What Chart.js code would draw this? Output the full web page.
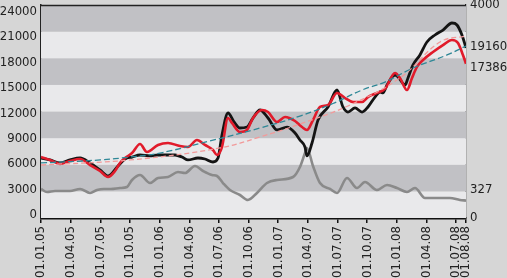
<!DOCTYPE html>
<html>
<head>
<meta charset="utf-8">
<script src="https://cdn.jsdelivr.net/npm/chart.js@4/dist/chart.umd.min.js"></script>
<style>
html,body{margin:0;padding:0;background:#d6d6d6;}
#wrap{width:507px;height:278px;position:relative;}
</style>
</head>
<body>
<div id="wrap"><canvas id="c" width="507" height="278"></canvas></div>
<script>
// ---- data (x = months since 01.01.05) ----
const tickMonths = [0,3,6,9,12,15,18,21,24,27,30,33,36,39,42,43];
const tickLabels = ['01.01.05','01.04.05','01.07.05','01.10.05','01.01.06','01.04.06','01.07.06','01.10.06','01.01.07','01.04.07','01.07.07','01.10.07','01.01.08','01.04.08','01.07.08','01.08.08'];
const leftTicks = [0,3000,6000,9000,12000,15000,18000,21000,24000];
const rightTicks = [0,4000];

const blackMonths = [0,0.91,1.92,2.93,3.95,4.96,5.97,6.78,7.79,8.5,9.21,10.02,11.03,11.84,12.85,13.56,14.27,14.87,15.88,16.59,17.4,17.91,18.31,18.92,19.53,20.13,20.84,21.45,22.16,22.97,23.88,24.89,25.7,26.2,26.71,26.91,27.42,28.03,29.04,29.95,30.55,31.06,31.77,32.48,33.08,33.79,34.3,34.6,35.01,35.82,36.12,36.83,37.13,37.64,38.34,39.05,39.86,40.67,41.58,42.09,42.59,43];
const blackValues = [6760,6540,6200,6540,6760,6200,5410,4730,5860,6650,6870,7100,6990,7100,7100,7100,6870,6540,6760,6650,6310,6760,9350,11830,10820,10140,10250,11270,12170,11270,9920,10250,9580,8790,8000,6990,8450,11040,12510,14420,12510,11940,12400,11940,12510,13630,14200,14090,14990,16110,15890,14990,15780,17240,18370,19830,20620,21180,21970,21750,20620,19160];

const redMonths = [0,0.91,1.92,2.93,3.95,4.96,5.97,6.78,7.49,7.99,8.5,9.21,10.02,10.72,11.84,12.85,14.06,14.87,15.78,16.59,17.4,17.81,18.31,18.92,19.32,20.13,20.84,21.45,22.36,22.97,23.88,24.69,25.7,26.41,26.91,27.52,28.23,29.04,29.95,30.76,31.57,32.48,33.08,33.99,34.8,35.82,36.32,37.03,37.54,38.04,38.65,39.66,40.67,41.58,42.19,42.69,43];
const redValues = [6870,6540,6090,6420,6650,5970,5300,4620,5300,6200,6760,7320,8340,7440,8230,8450,8110,8000,8790,8230,7660,7100,8000,11270,10710,9690,9920,11270,12170,11940,10820,11380,10930,10250,9920,11040,12510,12730,14090,13520,13070,13070,13630,14090,14540,16340,15780,14420,15780,17020,17800,18710,19490,20060,19720,18370,17386];

const trendMonths = [0,5.97,9.0,12.04,17.1,22.16,26.2,29.54,32.48,34.8,37.64,41.08,43];
const trendValues = [6200,6540,6870,7320,8680,10140,11490,12900,14420,15320,16900,18370,19380];

const pinkMonths = [0,9.0,18.11,22.16,26.2,31.26,36.32,40.37,43];
const pinkValues = [5970,6540,7890,9130,10590,12730,15780,19830,20510];

const grayMonths = [0,0.61,1.42,2.02,2.93,3.95,4.96,5.67,6.37,7.08,7.99,8.7,9.21,10.02,11.03,11.84,12.85,13.86,14.57,15.58,16.39,17.3,17.81,18.41,19.12,20.13,20.94,21.85,22.86,23.88,25.5,26.2,26.71,26.91,27.52,28.23,29.24,29.95,30.96,31.97,32.78,33.99,35.01,36.02,37.03,37.84,38.85,40.06,41.37,42.39,43];
const grayValues = [545,488,507,507,507,545,470,526,545,545,563,582,714,808,657,751,770,864,845,977,883,808,789,657,526,432,338,470,657,714,770,958,1221,1315,977,657,545,470,751,563,676,526,620,563,488,563,376,376,376,338,327];

const pts = (xs, ys) => xs.map((x, i) => ({x: x, y: ys[i]}));
const FONT = "'DejaVu Sans Condensed','Liberation Sans',sans-serif";
const FSIZE = 13;

const bandsPlugin = {
  id: 'bands',
  beforeDatasetsDraw(chart) {
    const {ctx, chartArea: a, scales: {y}} = chart;
    ctx.save();
    for (let i = 0; i < leftTicks.length - 1; i++) {
      const y0 = y.getPixelForValue(leftTicks[i]);
      const y1 = y.getPixelForValue(leftTicks[i + 1]);
      ctx.fillStyle = (i % 2 === 0) ? '#e9e9eb' : '#c1c1c5';
      ctx.fillRect(a.left, y1, a.right - a.left, y0 - y1);
    }
    ctx.restore();
  },
  afterDraw(chart) {
    const {ctx, chartArea: a, scales} = chart;
    ctx.save();
    ctx.strokeStyle = '#222';
    ctx.lineWidth = 1.5;
    ctx.beginPath();
    ctx.moveTo(a.left, a.top + 0.5);
    ctx.lineTo(a.right, a.top + 0.5);
    ctx.stroke();
    // end value labels
    ctx.fillStyle = '#222';
    ctx.font = FSIZE + 'px ' + FONT;
    ctx.textAlign = 'left';
    ctx.textBaseline = 'middle';
    const items = [
      [blackValues[blackValues.length - 1], scales.y, -1],
      [redValues[redValues.length - 1], scales.y, 4],
      [grayValues[grayValues.length - 1], scales.y2, -11]
    ];
    items.forEach(([v, s, off]) => {
      ctx.fillText(String(Math.round(v)), a.right + 4, s.getPixelForValue(v) + off);
    });
    ctx.restore();
  }
};

const noPadV = s => { s.paddingTop = 0; s.paddingBottom = 0; };

new Chart(document.getElementById('c'), {
  type: 'line',
  data: {
    datasets: [
      {data: pts(pinkMonths, pinkValues), borderColor: '#f29a9a', borderWidth: 1.3, borderDash: [5, 3], yAxisID: 'y', order: 1, tension: 0.4},
      {data: pts(trendMonths, trendValues), borderColor: '#2e8796', borderWidth: 1.3, borderDash: [6, 3], yAxisID: 'y', order: 0, tension: 0.4},
      {data: pts(redMonths, redValues), borderColor: '#e11b2b', borderWidth: 2.6, yAxisID: 'y', order: 2, cubicInterpolationMode: 'monotone'},
      {data: pts(blackMonths, blackValues), borderColor: '#141414', borderWidth: 2.8, yAxisID: 'y', order: 3, cubicInterpolationMode: 'monotone'},
      {data: pts(grayMonths, grayValues), borderColor: '#8a8a8a', borderWidth: 2.6, yAxisID: 'y2', order: 4, cubicInterpolationMode: 'monotone'}
    ]
  },
  options: {
    responsive: false,
    animation: false,
    devicePixelRatio: 1,
    layout: {padding: {top: 5, left: 0, right: 0, bottom: 0}},
    elements: {point: {radius: 0}},
    plugins: {legend: {display: false}, tooltip: {enabled: false}},
    scales: {
      x: {
        type: 'linear', min: 0, max: 43,
        afterBuildTicks: s => { s.ticks = tickMonths.map(v => ({value: v})); },
        afterFit: s => { s.height = 60; s.paddingLeft = 0; s.paddingRight = 0; },
        ticks: {
          autoSkip: false, maxRotation: 90, minRotation: 90, padding: 3,
          color: '#222', font: {family: FONT, size: FSIZE},
          callback: (v, i) => tickLabels[i]
        },
        grid: {drawOnChartArea: false, drawTicks: true, tickLength: 5, color: '#111', lineWidth: 1.5},
        border: {display: true, color: '#111', width: 2.5}
      },
      y: {
        type: 'linear', position: 'left', min: 0, max: 24000, display: false
      },
      yl: {
        type: 'linear', position: 'left', min: -354, max: 24766,
        afterBuildTicks: s => { s.ticks = leftTicks.map(v => ({value: v})); },
        afterFit: s => { s.width = 41; noPadV(s); },
        ticks: {color: '#222', font: {family: FONT, size: FSIZE}, padding: 4, callback: v => String(v)},
        grid: {display: false, drawTicks: false},
        border: {display: true, color: '#222', width: 1.5}
      },
      y2: {
        type: 'linear', position: 'right', min: 0, max: 4000,
        afterBuildTicks: s => { s.ticks = rightTicks.map(v => ({value: v})); },
        afterFit: s => { s.width = 41; noPadV(s); },
        ticks: {color: '#222', font: {family: FONT, size: FSIZE}, padding: 4, callback: v => String(v)},
        grid: {display: false, drawTicks: false},
        border: {display: true, color: '#222', width: 1.2}
      }
    }
  },
  plugins: [bandsPlugin]
});
</script>
</body>
</html>
